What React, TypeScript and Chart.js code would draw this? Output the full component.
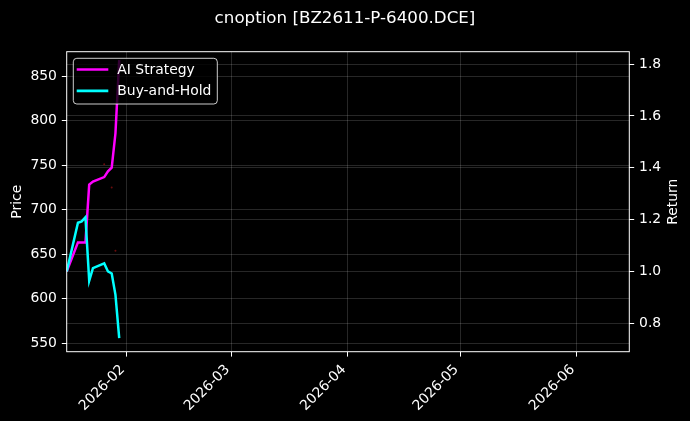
import React, { useEffect, useRef } from "react";
import { Chart, registerables } from "chart.js";

Chart.register(...registerables);

const TITLE = "cnoption [BZ2611-P-6400.DCE]";
const DATES = [
  "2026-01-16", "2026-01-19", "2026-01-20", "2026-01-21", "2026-01-22", "2026-01-23",
  "2026-01-26", "2026-01-27", "2026-01-28", "2026-01-29", "2026-01-30",
];
const AI_STRATEGY = [1.0, 1.112, 1.112, 1.112, 1.335, 1.347, 1.364, 1.386, 1.4, 1.533, 1.815];
const BUY_AND_HOLD = [1.0, 1.188, 1.193, 1.209, 0.964, 1.013, 1.031, 1.0, 0.992, 0.91, 0.743];
const PRICE_DATES = ["2026-01-26", "2026-01-28", "2026-01-29"];
const PRICE = [751, 725, 654];
const MONTH_TICKS = ["2026-02-01", "2026-03-01", "2026-04-01", "2026-05-01", "2026-06-01"];
const PRICE_TICKS = [550, 600, 650, 700, 750, 800, 850];
const RETURN_TICKS = [0.8, 1.0, 1.2, 1.4, 1.6, 1.8];
const X_RANGE = ["2026-01-16", "2026-06-15"];
const PRICE_RANGE = [540.6, 877.3];
const RETURN_RANGE = [0.6905, 1.8476];
const SERIES_NAMES = ["AI Strategy", "Buy-and-Hold"];
const SERIES_COLORS = ["#ff00ff", "#00ffff"];
const AXIS_TITLES = ["Price", "Return"];

const FONT = '"DejaVu Sans", "Liberation Sans", sans-serif';
const ts = (d: string) => Date.parse(d + "T00:00:00Z");

const overlay = {
  id: "overlay",
  beforeDraw(chart: any) {
    const ctx = chart.ctx;
    ctx.save();
    ctx.fillStyle = "#000";
    ctx.fillRect(0, 0, chart.width, chart.height);
    ctx.restore();
  },
  afterDraw(chart: any) {
    const ctx = chart.ctx;
    const { left, top, right, bottom } = chart.chartArea;
    const midY = (top + bottom) / 2;
    ctx.save();
    // frame
    ctx.strokeStyle = "#fff";
    ctx.lineWidth = 1;
    ctx.strokeRect(left, top, right - left, bottom - top);
    // title
    ctx.fillStyle = "#fff";
    ctx.font = `16.7px ${FONT}`;
    ctx.textAlign = "center";
    ctx.textBaseline = "middle";
    ctx.fillText(TITLE, chart.width / 2, 18.5);
    // axis titles (both read bottom-to-top)
    ctx.font = `13.9px ${FONT}`;
    ctx.save();
    ctx.translate(17, midY);
    ctx.rotate(-Math.PI / 2);
    ctx.fillText(AXIS_TITLES[0], 0, 0);
    ctx.restore();
    ctx.save();
    ctx.translate(673.5, midY);
    ctx.rotate(-Math.PI / 2);
    ctx.fillText(AXIS_TITLES[1], 0, 0);
    ctx.restore();
    // legend
    const bx = left + 6.6, by = top + 6.6, bw = 144, bh = 45.7, r = 3.5;
    ctx.beginPath();
    ctx.moveTo(bx + r, by);
    ctx.lineTo(bx + bw - r, by);
    ctx.quadraticCurveTo(bx + bw, by, bx + bw, by + r);
    ctx.lineTo(bx + bw, by + bh - r);
    ctx.quadraticCurveTo(bx + bw, by + bh, bx + bw - r, by + bh);
    ctx.lineTo(bx + r, by + bh);
    ctx.quadraticCurveTo(bx, by + bh, bx, by + bh - r);
    ctx.lineTo(bx, by + r);
    ctx.quadraticCurveTo(bx, by, bx + r, by);
    ctx.closePath();
    ctx.fillStyle = "rgba(0,0,0,0.8)";
    ctx.fill();
    ctx.strokeStyle = "rgba(255,255,255,0.8)";
    ctx.lineWidth = 1;
    ctx.stroke();
    ctx.textAlign = "left";
    ctx.textBaseline = "middle";
    SERIES_NAMES.forEach((name, i) => {
      const y = top + 17.8 + i * 21.4;
      ctx.strokeStyle = SERIES_COLORS[i];
      ctx.lineWidth = 2.6;
      ctx.beginPath();
      ctx.moveTo(left + 10, y);
      ctx.lineTo(left + 41.6, y);
      ctx.stroke();
      ctx.fillStyle = "#fff";
      ctx.fillText(name, left + 50.6, y + 0.5);
    });
    ctx.restore();
  },
};

const gridBase = {
  color: "rgba(255,255,255,0.22)",
  lineWidth: 0.7,
  borderDash: [2, 2],
  tickColor: "#fff",
  tickLength: 4.9,
  tickWidth: 1,
  tickBorderDash: [],
};

export default function App() {
  const ref = useRef<HTMLCanvasElement | null>(null);

  useEffect(() => {
    if (!ref.current) return;
    const xs = DATES.map(ts);
    const chart = new Chart(ref.current, {
      type: "line",
      data: {
        datasets: [
          {
            label: "Price",
            data: PRICE_DATES.map((d, i) => ({ x: ts(d), y: PRICE[i] })),
            yAxisID: "y",
            showLine: false,
            pointRadius: 1,
            pointBorderWidth: 0,
            pointBackgroundColor: "#6a0c0c",
            borderColor: "#6a0c0c",
            order: 3,
          },
          {
            label: SERIES_NAMES[0],
            data: xs.map((x, i) => ({ x, y: AI_STRATEGY[i] })),
            yAxisID: "y1",
            borderColor: SERIES_COLORS[0],
            borderWidth: 2.5,
            pointRadius: 0,
            tension: 0,
            order: 2,
          },
          {
            label: SERIES_NAMES[1],
            data: xs.map((x, i) => ({ x, y: BUY_AND_HOLD[i] })),
            yAxisID: "y1",
            borderColor: SERIES_COLORS[1],
            borderWidth: 2.5,
            pointRadius: 0,
            tension: 0,
            order: 1,
          },
        ],
      },
      options: {
        animation: false,
        responsive: false,
        maintainAspectRatio: false,
        layout: { padding: { top: 51.7, left: 0, right: 0, bottom: 0 } },
        plugins: { legend: { display: false }, tooltip: { enabled: false }, title: { display: false } },
        scales: {
          x: {
            type: "linear",
            min: ts(X_RANGE[0]),
            max: ts(X_RANGE[1]),
            afterFit: (s: any) => { s.height = 421 - 351.7; },
            afterBuildTicks: (s: any) => { s.ticks = MONTH_TICKS.map((d) => ({ value: ts(d) })); },
            ticks: {
              autoSkip: false,
              minRotation: 45,
              maxRotation: 45,
              color: "#fff",
              padding: 5,
              labelOffset: -4,
              font: { family: FONT, size: 13.9 },
              callback: (v: any) => {
                const d = new Date(Number(v));
                return `${d.getUTCFullYear()}-${String(d.getUTCMonth() + 1).padStart(2, "0")}`;
              },
            },
            grid: gridBase,
            border: { display: false },
          },
          y: {
            type: "linear",
            position: "left",
            min: PRICE_RANGE[0],
            max: PRICE_RANGE[1],
            afterFit: (s: any) => { s.width = 66.7; },
            afterBuildTicks: (s: any) => { s.ticks = PRICE_TICKS.map((v) => ({ value: v })); },
            ticks: {
              color: "#fff",
              padding: 4.9,
              font: { family: FONT, size: 13.9 },
              callback: (v: any) => String(v),
            },
            grid: gridBase,
            border: { display: false },
          },
          y1: {
            type: "linear",
            position: "right",
            min: RETURN_RANGE[0],
            max: RETURN_RANGE[1],
            afterFit: (s: any) => { s.width = 690 - 629.3; },
            afterBuildTicks: (s: any) => { s.ticks = RETURN_TICKS.map((v) => ({ value: v })); },
            ticks: {
              color: "#fff",
              padding: 4.9,
              font: { family: FONT, size: 13.9 },
              callback: (v: any) => Number(v).toFixed(1),
            },
            grid: gridBase,
            border: { display: false },
          },
        },
      },
      plugins: [overlay],
    });
    return () => chart.destroy();
  }, []);

  return (
    <div style={{ position: "fixed", left: 0, top: 0, width: 690, height: 421, background: "#000" }}>
      <canvas ref={ref} width={690} height={421} style={{ display: "block", width: 690, height: 421 }} />
    </div>
  );
}
